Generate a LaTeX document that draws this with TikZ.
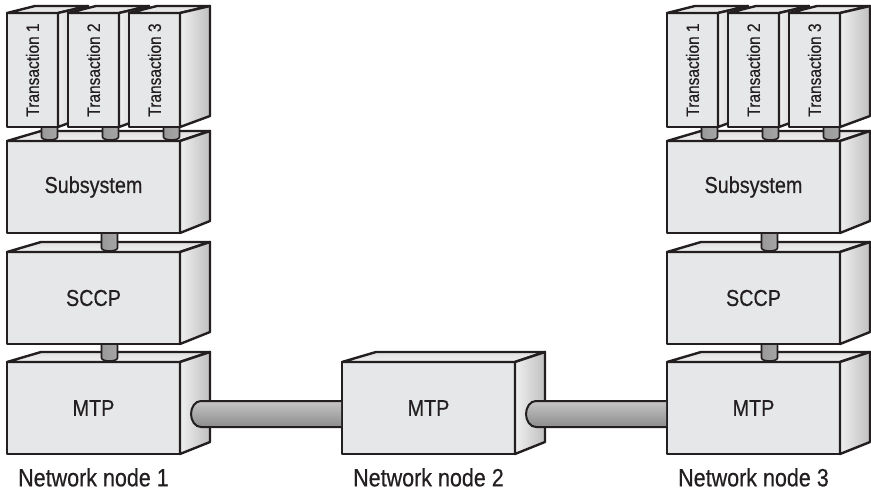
\documentclass[tikz,border=0pt]{standalone}
\usepackage{fontspec}
\setmainfont{Liberation Sans}[FakeStretch=0.86,FakeBold=0.5]
\usetikzlibrary{calc,positioning}
\definecolor{facegray}{HTML}{E6E7E8}
\definecolor{inkblack}{HTML}{231F20}

% top and side faces of a block: name, left dx, right dx, top dy, bottom dy
\newcommand{\blockfaces}[5]{%
  \filldraw[topface] (#1.north west) -- ++(#2,-#4) -- ($(#1.north east)+(#3,-#4)$) -- (#1.north east) -- cycle;
  \filldraw[sideface] (#1.north east) -- ++(#3,-#4) -- ($(#1.south east)+(#3,-#5)$) -- (#1.south east) -- cycle;}

% short post between an upper and a lower block
\newcommand{\stem}[3]{%
  \filldraw[stemshade] let \p1=($(#1.south)+(#3,1.2)$), \p2=($(#2.north)+(0,-4)$) in
    (\x1-8pt,\y1) -- (\x1-8pt,\y2)
    arc[start angle=180,end angle=360,x radius=8pt,y radius=3pt] -- (\x1+8pt,\y1);}

\begin{document}
\begin{tikzpicture}[
  x=1pt,y=-1pt,
  line join=round,
  block/.style={draw=inkblack,line width=2.4pt,fill=facegray,inner sep=0pt,outer sep=0pt,
    minimum width=173pt,minimum height=92pt,anchor=north west,
    font=\fontsize{23}{26}\selectfont,text=inkblack},
  card/.style={block,minimum width=51pt,minimum height=114pt,font=\fontsize{18}{20}\selectfont},
  topface/.style={draw=inkblack,line width=2.4pt,top color=gray!24,bottom color=gray!12},
  sideface/.style={draw=inkblack,line width=2.4pt,left color=gray!12,right color=gray!50},
  stemshade/.style={draw=inkblack,line width=1.6pt,left color=gray!80,middle color=gray!35,right color=gray!70},
  cable/.style={draw=inkblack,line width=2pt,top color=gray!45,middle color=gray!50,bottom color=gray!90},
  caption/.style={inner sep=0pt,font=\fontsize{25}{28}\selectfont,text=inkblack}
]
  \useasboundingbox (0,0) rectangle (871,493);

  % network node 1
  \node[card] (t1a) at (7,13) {\rotatebox{90}{Transaction 1}};
  \blockfaces{t1a}{28}{30}{7}{11}
  \node[card,right=10pt of t1a] (t2a) {\rotatebox{90}{Transaction 2}};
  \blockfaces{t2a}{28}{30}{7}{11}
  \node[card,right=10pt of t2a] (t3a) {\rotatebox{90}{Transaction 3}};
  \blockfaces{t3a}{28}{30}{7}{11}
  \node[block] (sub1) at (7,141) {Subsystem};
  \blockfaces{sub1}{34}{30}{10}{12}
  \node[block,below=19pt of sub1] (sccp1) {SCCP};
  \blockfaces{sccp1}{34}{30}{10}{12}
  \node[block,below=18pt of sccp1] (mtp1) {MTP};
  \blockfaces{mtp1}{34}{30}{10}{12}

  % network node 2
  \node[block,right=162pt of mtp1] (mtp2) {MTP};
  \blockfaces{mtp2}{34}{30}{10}{12}

  % network node 3
  \node[card] (t1c) at (667,13) {\rotatebox{90}{Transaction 1}};
  \blockfaces{t1c}{28}{30}{7}{11}
  \node[card,right=10pt of t1c] (t2c) {\rotatebox{90}{Transaction 2}};
  \blockfaces{t2c}{28}{30}{7}{11}
  \node[card,right=10pt of t2c] (t3c) {\rotatebox{90}{Transaction 3}};
  \blockfaces{t3c}{28}{30}{7}{11}
  \node[block,right=152pt of mtp2] (mtp3) {MTP};
  \blockfaces{mtp3}{34}{30}{10}{12}
  \node[block,above=18pt of mtp3] (sccp3) {SCCP};
  \blockfaces{sccp3}{34}{30}{10}{12}
  \node[block,above=19pt of sccp3] (sub3) {Subsystem};
  \blockfaces{sub3}{34}{30}{10}{12}

  % posts
  \stem{t1a}{sub1}{17}
  \stem{t2a}{sub1}{17}
  \stem{t3a}{sub1}{17}
  \stem{sub1}{sccp1}{16}
  \stem{sccp1}{mtp1}{16}
  \stem{t1c}{sub3}{17}
  \stem{t2c}{sub3}{17}
  \stem{t3c}{sub3}{17}
  \stem{sub3}{sccp3}{16}
  \stem{sccp3}{mtp3}{16}

  % links
  \draw[cable] let \p1=($(mtp1.east)+(21,6)$), \p2=(mtp2.west) in
    (\x2-1pt,\y1+13pt) -- (\x1,\y1+13pt)
    arc[start angle=90,end angle=270,x radius=10pt,y radius=13pt] -- (\x2-1pt,\y1-13pt);
  \draw[cable] let \p1=($(mtp2.east)+(21,6)$), \p2=(mtp3.west) in
    (\x2-1pt,\y1+13pt) -- (\x1,\y1+13pt)
    arc[start angle=90,end angle=270,x radius=10pt,y radius=13pt] -- (\x2-1pt,\y1-13pt);

  \node[caption,below=14pt of mtp1] (lab1) {Network node 1};
  \node[caption,below=14pt of mtp2] (lab2) {Network node 2};
  \node[caption,below=14pt of mtp3] (lab3) {Network node 3};
\end{tikzpicture}
\end{document}
